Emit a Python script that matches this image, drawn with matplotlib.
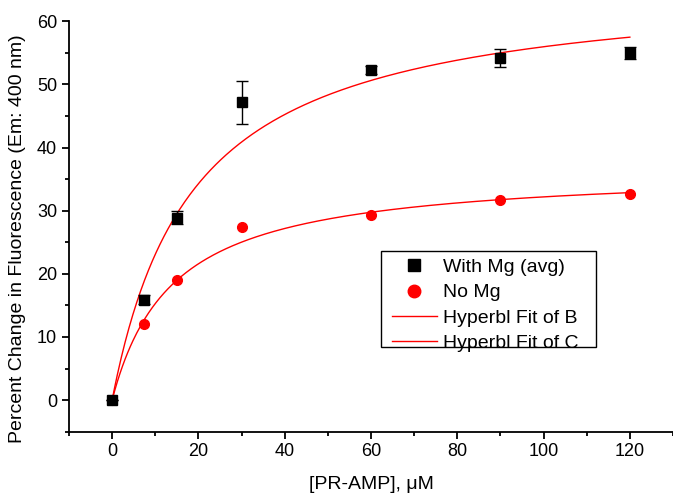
import numpy as np
import matplotlib
matplotlib.use("Agg")
import matplotlib.pyplot as plt
from matplotlib.ticker import MultipleLocator
from matplotlib.lines import Line2D
from matplotlib.patches import Rectangle

plt.rcParams['font.family'] = ['Liberation Sans', 'DejaVu Sans']

conc = [0, 7.5, 15, 30, 60, 90, 120]
with_mg = [0, 15.9, 28.9, 47.2, 52.3, 54.2, 55.0]
with_mg_err = [0, 0.7, 1.0, 3.4, 0.7, 1.4, 1.0]
no_mg = [0, 12.0, 19.0, 27.4, 29.3, 31.7, 32.7]

# Hyperbolic fit parameters: y = P * x / (K + x)
fit_b = {"P": 66.5, "K": 18.8}
fit_c = {"P": 36.7, "K": 14.0}

fig = plt.figure(figsize=(6.73, 4.94), dpi=100)
ax = fig.add_axes([0.1025, 0.1262, 0.8975, 0.8306])

xf = np.linspace(0, 120, 400)
yb = fit_b["P"] * xf / (fit_b["K"] + xf)
yc = fit_c["P"] * xf / (fit_c["K"] + xf)

ax.errorbar(conc, with_mg, yerr=with_mg_err, fmt='s', color='black',
            ecolor='black', elinewidth=1, capsize=4, capthick=1,
            markersize=6.5, zorder=3)
ax.plot(conc, no_mg, 'o', color='red', markersize=7, zorder=3)
ax.plot(xf, yb, color='red', lw=1, zorder=2)
ax.plot(xf, yc, color='red', lw=1, zorder=2)

ax.set_xlim(-10, 130)
ax.set_ylim(-5, 60)
ax.xaxis.set_major_locator(MultipleLocator(20))
ax.xaxis.set_minor_locator(MultipleLocator(10))
ax.yaxis.set_major_locator(MultipleLocator(10))
ax.yaxis.set_minor_locator(MultipleLocator(5))
ax.spines['top'].set_visible(False)
ax.spines['right'].set_visible(False)
for s in ['left', 'bottom']:
    ax.spines[s].set_linewidth(1.3)
ax.tick_params(which='major', direction='out', length=5, width=1.3, labelsize=13)
ax.tick_params(which='minor', direction='out', length=3, width=1.3)

ax.set_xlabel('[PR-AMP], \u03bcM', fontsize=14, labelpad=11)
ax.set_ylabel('Percent Change in Fluorescence (Em: 400 nm)', fontsize=14)
ax.yaxis.set_label_coords(-0.0712, 0.4695)

# legend frame
ax.add_patch(Rectangle((0.5166, 0.2057), 0.3559, 0.2343, transform=ax.transAxes,
                       facecolor='white', edgecolor='black', lw=1, zorder=4,
                       clip_on=False))

handles = [
    Line2D([], [], ls='none', marker='s', color='black', markersize=8),
    Line2D([], [], ls='none', marker='o', color='red', markersize=9),
    Line2D([], [], color='red', lw=1),
    Line2D([], [], color='red', lw=1),
]
labels = ['With Mg (avg)', 'No Mg', 'Hyperbl Fit of B', 'Hyperbl Fit of C']
leg = ax.legend(handles, labels, loc='upper left', bbox_to_anchor=(0.5348, 0.4223),
                borderaxespad=0, borderpad=0, frameon=False,
                fontsize=14, handlelength=2.3, labelspacing=0.4,
                handletextpad=0.3)
leg.set_zorder(5)

fig.savefig('out.png', dpi=100)
